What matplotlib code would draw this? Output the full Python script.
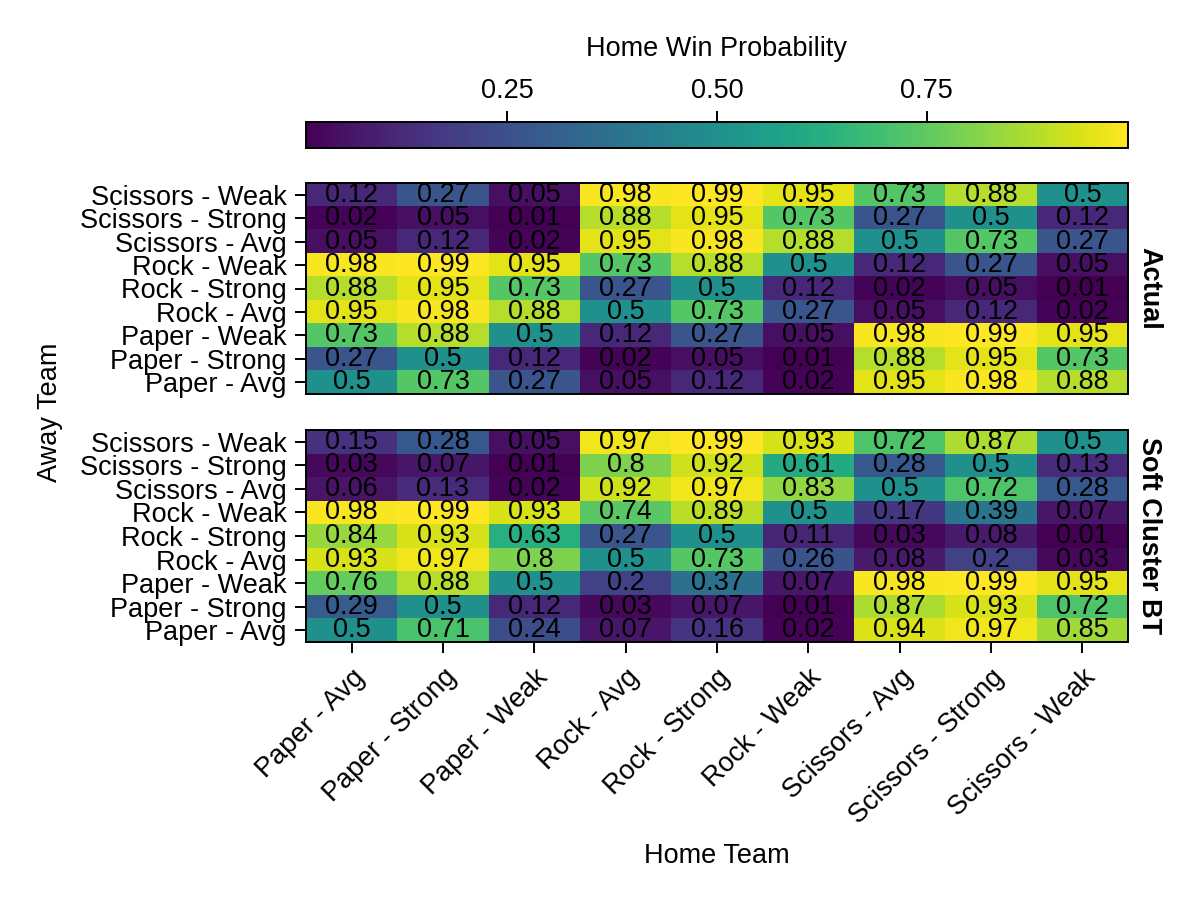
import numpy as np
import matplotlib
matplotlib.use('Agg')
import matplotlib.pyplot as plt

plt.rcParams['font.family'] = ['Liberation Sans', 'DejaVu Sans']

# teams in axis order (bottom -> top for rows, left -> right for columns)
teams = ['Paper - Avg', 'Paper - Strong', 'Paper - Weak',
         'Rock - Avg', 'Rock - Strong', 'Rock - Weak',
         'Scissors - Avg', 'Scissors - Strong', 'Scissors - Weak']

# rows listed top to bottom as shown (Scissors - Weak first)
actual = [
    [0.12, 0.27, 0.05, 0.98, 0.99, 0.95, 0.73, 0.88, 0.5],
    [0.02, 0.05, 0.01, 0.88, 0.95, 0.73, 0.27, 0.5, 0.12],
    [0.05, 0.12, 0.02, 0.95, 0.98, 0.88, 0.5, 0.73, 0.27],
    [0.98, 0.99, 0.95, 0.73, 0.88, 0.5, 0.12, 0.27, 0.05],
    [0.88, 0.95, 0.73, 0.27, 0.5, 0.12, 0.02, 0.05, 0.01],
    [0.95, 0.98, 0.88, 0.5, 0.73, 0.27, 0.05, 0.12, 0.02],
    [0.73, 0.88, 0.5, 0.12, 0.27, 0.05, 0.98, 0.99, 0.95],
    [0.27, 0.5, 0.12, 0.02, 0.05, 0.01, 0.88, 0.95, 0.73],
    [0.5, 0.73, 0.27, 0.05, 0.12, 0.02, 0.95, 0.98, 0.88],
]
soft_bt = [
    [0.15, 0.28, 0.05, 0.97, 0.99, 0.93, 0.72, 0.87, 0.5],
    [0.03, 0.07, 0.01, 0.8, 0.92, 0.61, 0.28, 0.5, 0.13],
    [0.06, 0.13, 0.02, 0.92, 0.97, 0.83, 0.5, 0.72, 0.28],
    [0.98, 0.99, 0.93, 0.74, 0.89, 0.5, 0.17, 0.39, 0.07],
    [0.84, 0.93, 0.63, 0.27, 0.5, 0.11, 0.03, 0.08, 0.01],
    [0.93, 0.97, 0.8, 0.5, 0.73, 0.26, 0.08, 0.2, 0.03],
    [0.76, 0.88, 0.5, 0.2, 0.37, 0.07, 0.98, 0.99, 0.95],
    [0.29, 0.5, 0.12, 0.03, 0.07, 0.01, 0.87, 0.93, 0.72],
    [0.5, 0.71, 0.24, 0.07, 0.16, 0.02, 0.94, 0.97, 0.85],
]
panels = [('Actual', actual), ('Soft Cluster BT', soft_bt)]

VMIN, VMAX = 0.01, 0.99
FS = 19.5

fig = plt.figure(figsize=(12, 9), dpi=100)
W, H = 1200, 900

def px_axes(x0, y0, x1, y1):
    return fig.add_axes([x0 / W, 1 - y1 / H, (x1 - x0) / W, (y1 - y0) / H])

axes = [px_axes(306, 183, 1128, 394), px_axes(306, 430, 1128, 642)]
n = len(teams)
for ax, (name, mat) in zip(axes, panels):
    data = np.array(mat)[::-1]  # bottom row first
    im = ax.imshow(data, cmap='viridis', vmin=VMIN, vmax=VMAX, origin='lower',
                   aspect='auto', extent=(-0.5, n - 0.5, -0.5, n - 0.5))
    for i in range(n):
        for j in range(n):
            v = data[i, j]
            ax.text(j, i, f'{v:g}', ha='center', va='center', fontsize=FS, color='black')
    ax.set_yticks(range(n))
    ax.set_yticklabels(teams, fontsize=FS)
    ax.tick_params(axis='y', length=8, width=1.4, pad=6)
    for s in ax.spines.values():
        s.set_linewidth(1.4)
    ax.text(1.01, 0.5, name, transform=ax.transAxes, rotation=-90, ha='left',
            va='center', fontsize=FS, fontweight='bold')

axes[0].set_xticks([])
axes[1].set_xticks(range(n))
axes[1].set_xticklabels(teams, rotation=45, ha='right', rotation_mode='anchor', fontsize=FS)
axes[1].tick_params(axis='x', length=8, width=1.4, pad=8)
axes[1].set_xlabel('Home Team', fontsize=FS, labelpad=10)
fig.text(50 / W, 1 - 412 / H, 'Away Team', rotation=90, ha='center', va='center', fontsize=FS)

cax = px_axes(306, 122, 1128, 148)
cb = fig.colorbar(im, cax=cax, orientation='horizontal')
cb.set_ticks([0.25, 0.5, 0.75])
cb.set_ticklabels(['0.25', '0.50', '0.75'])
cax.xaxis.set_ticks_position('top')
cax.xaxis.set_label_position('top')
cax.tick_params(axis='x', length=8, width=1.4, labelsize=FS, pad=5)
cb.outline.set_linewidth(1.4)
cb.set_label('Home Win Probability', fontsize=FS, labelpad=16)

fig.savefig('out.png', dpi=100)
